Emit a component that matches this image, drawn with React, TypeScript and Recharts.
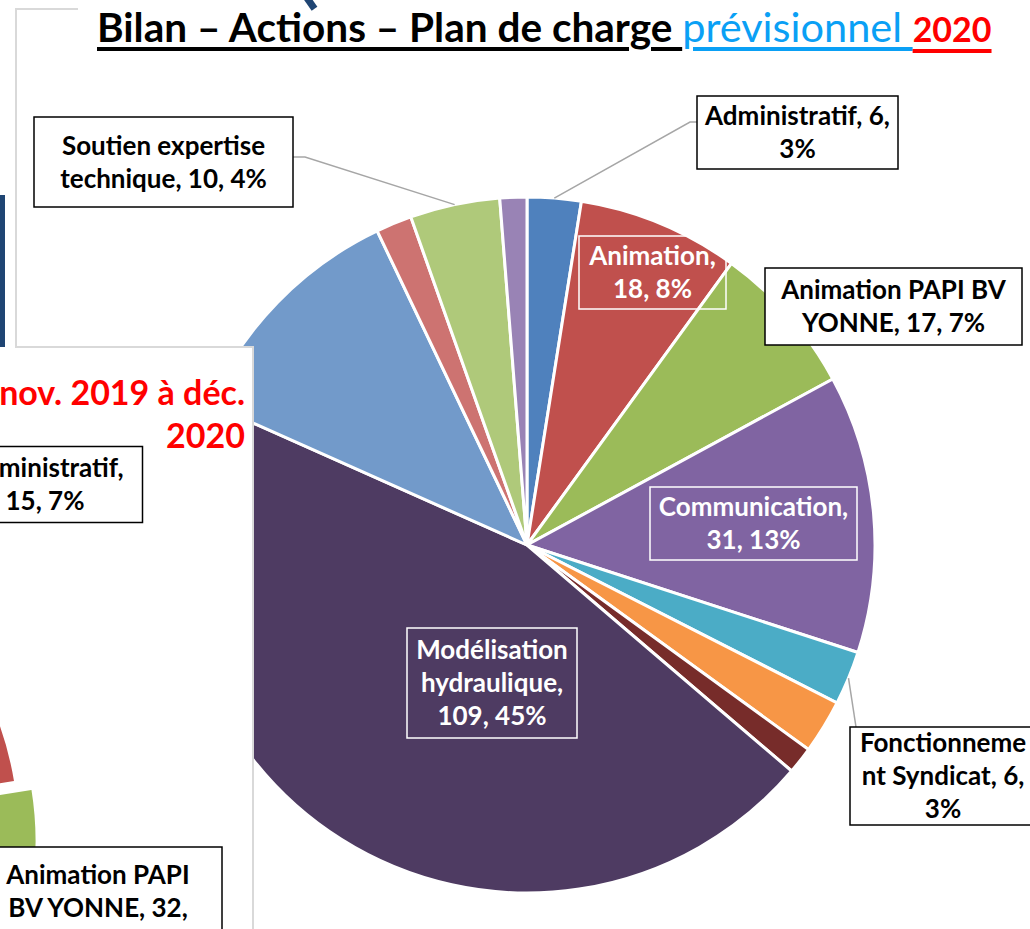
import React from 'react';
import { PieChart, Pie, Cell } from 'recharts';

// ---------- DATA ----------
const titleTexts = ['Bilan – Actions – Plan de charge ', 'prévisionnel ', '2020'];

const categories2020 = [
  'Administratif',
  'Animation',
  'Animation PAPI BV YONNE',
  'Communication',
  'Fonctionnement Syndicat',
  'Études',
  'Gestion',
  'Modélisation hydraulique',
  'Suivi des travaux',
  'Concertation',
  'Soutien expertise technique',
  'Divers',
];
const values2020 = [6, 18, 17, 31, 6, 6, 3, 109, 27, 4, 10, 3];

const periodLines = ['nov. 2019 à déc.', '2020'];
const categoriesBilan = [
  'Administratif',
  'Animation',
  'Animation PAPI BV YONNE',
  'Communication',
  'Fonctionnement Syndicat',
  'Modélisation hydraulique',
  'Autres',
];
const valuesBilan = [15, 33, 32, 28, 8, 80, 18];

// ---------- STYLES / LAYOUT ----------
const colors2020 = ['#4F81BD', '#C0504D', '#9BBB59', '#8064A2', '#4BACC6', '#F79646', '#772C2A', '#4E3B62', '#729ACA', '#CD7371', '#AFC97A', '#9983B5'];
const colorsBilan = ['#4F81BD', '#C0504D', '#9BBB59', '#8064A2', '#4BACC6', '#4E3B62', '#729ACA'];

const FONT = 'Lato, "Open Sans", sans-serif';
const LABEL_SIZE = 26;
const LINE_H = 33;
const RAD = Math.PI / 180;

type Lay = { dx: number; dy: number; w: number; h: number; kind: 'in' | 'out'; breaks: number[]; leader?: number[][] };

const mainCenter = { x: 527, y: 545 };
const mainR = 348;
const mainLayout: Record<string, Lay> = {
  'Administratif': { dx: 270.5, dy: -412.5, w: 201, h: 73, kind: 'out', breaks: [17], leader: [[-107.5, -10.5], [-100.5, -10.5]] },
  'Animation': { dx: 125.5, dy: -272.5, w: 147, h: 73, kind: 'in', breaks: [10] },
  'Animation PAPI BV YONNE': { dx: 366.5, dy: -238.5, w: 257, h: 77, kind: 'out', breaks: [17] },
  'Communication': { dx: 226.5, dy: -21.5, w: 207, h: 73, kind: 'in', breaks: [14] },
  'Fonctionnement Syndicat': { dx: 416, dy: 231, w: 186, h: 98, kind: 'out', breaks: [12, 27], leader: [[-87, -49]] },
  'Modélisation hydraulique': { dx: -35, dy: 138, w: 170, h: 110, kind: 'in', breaks: [12, 25] },
  'Soutien expertise technique': { dx: -363.5, dy: -383, w: 259, h: 90, kind: 'out', breaks: [17], leader: [[141.5, -5], [129.5, -5]] },
};

const panel = { x: 0, y: 347, w: 253, h: 582 };
const bilanCenter = { x: -308, y: 488 };
const bilanR = 328;
const bilanExplode = { dx: 17, dy: 6 };
const bilanLayout: Record<string, Lay> = {
  'Administratif': { dx: 353, dy: -350.5, w: 195, h: 76, kind: 'out', breaks: [14] },
  'Animation PAPI BV YONNE': { dx: 406, dy: 73, w: 248, h: 122, kind: 'out', breaks: [14, 28] },
};

function splitLines(s: string, breaks: number[]) {
  const out: string[] = [];
  let prev = 0;
  breaks.forEach((b) => {
    out.push(s.slice(prev, b).trim());
    prev = b;
  });
  out.push(s.slice(prev).trim());
  return out;
}

function makeLabel(names: string[], vals: number[], layout: Record<string, Lay>, center: { x: number; y: number }, r: number) {
  const total = vals.reduce((a, b) => a + b, 0);
  return (props: any) => {
    const i = props.index;
    const name = names[i];
    const L = layout[name];
    if (!L) return null;
    const pct = Math.round((vals[i] / total) * 100);
    const lines = splitLines(`${name}, ${vals[i]}, ${pct}%`, L.breaks);
    const bx = center.x + L.dx;
    const by = center.y + L.dy;
    const mid = props.midAngle;
    const ex = center.x + r * Math.cos(-mid * RAD);
    const ey = center.y + r * Math.sin(-mid * RAD);
    const inside = L.kind === 'in';
    const n = lines.length;
    let leaderPath = '';
    if (L.leader) {
      leaderPath = `M${ex},${ey}` + L.leader.map((p) => ` L${bx + p[0]},${by + p[1]}`).join('');
    }
    return (
      <g key={`lab-${i}`}>
        {leaderPath && <path d={leaderPath} stroke="#A6A6A6" strokeWidth={1.5} fill="none" />}
        <rect
          x={bx - L.w / 2}
          y={by - L.h / 2}
          width={L.w}
          height={L.h}
          fill={inside ? 'none' : '#ffffff'}
          stroke={inside ? '#ffffff' : '#000000'}
          strokeWidth={1.5}
        />
        <text textAnchor="middle" fontFamily={FONT} fontWeight={700} fontSize={LABEL_SIZE} fill={inside ? '#ffffff' : '#000000'}>
          {lines.map((ln, k) => (
            <tspan key={k} x={bx} y={by + (k - (n - 1) / 2) * LINE_H + 9}>
              {ln}
            </tspan>
          ))}
        </text>
      </g>
    );
  };
}

const mainData = categories2020.map((name, i) => ({ name, value: values2020[i] }));
const bilanData = categoriesBilan.map((name, i) => ({ name, value: valuesBilan[i] }));
const EXPLODED = 'Animation PAPI BV YONNE';

const underline = { textDecoration: 'underline', textDecorationThickness: 4, textUnderlineOffset: 5 } as const;

export default function App() {
  return (
    <div style={{ position: 'absolute', left: 0, top: 0, width: 1030, height: 929, overflow: 'hidden', background: '#ffffff' }}>
      {/* background slide frame */}
      <div style={{ position: 'absolute', left: 15, top: 8, width: 2, height: 340, background: '#D9D9D9' }} />
      <div style={{ position: 'absolute', left: 15, top: 8, width: 63, height: 2, background: '#D9D9D9' }} />
      <div style={{ position: 'absolute', left: 0, top: 195, width: 5, height: 152, background: '#1F4573' }} />
      <div style={{ position: 'absolute', left: 307, top: -4, width: 7, height: 14, background: '#1F4573', transform: 'rotate(-35deg)' }} />

      {/* main pie */}
      <div style={{ position: 'absolute', left: 0, top: 0 }}>
        <PieChart width={1030} height={929} margin={{ top: 0, right: 0, bottom: 0, left: 0 }}>
          <Pie
            data={mainData}
            dataKey="value"
            nameKey="name"
            cx={mainCenter.x}
            cy={mainCenter.y}
            outerRadius={mainR}
            startAngle={90}
            endAngle={-270}
            stroke="#ffffff"
            strokeWidth={3}
            isAnimationActive={false}
            labelLine={false}
            label={makeLabel(categories2020, values2020, mainLayout, mainCenter, mainR)}
          >
            {mainData.map((d, i) => (
              <Cell key={d.name} fill={colors2020[i]} />
            ))}
          </Pie>
        </PieChart>
      </div>

      {/* overlapping panel: bilan nov. 2019 – déc. 2020 */}
      <div style={{ position: 'absolute', left: panel.x, top: panel.y, width: panel.w, height: panel.h, overflow: 'hidden', background: '#ffffff' }}>
        <PieChart width={panel.w} height={panel.h} margin={{ top: 0, right: 0, bottom: 0, left: 0 }}>
          <Pie
            data={bilanData}
            dataKey="value"
            nameKey="name"
            cx={bilanCenter.x}
            cy={bilanCenter.y}
            outerRadius={bilanR}
            startAngle={90}
            endAngle={-270}
            stroke="#ffffff"
            strokeWidth={3}
            isAnimationActive={false}
            labelLine={false}
          >
            {bilanData.map((d, i) => (
              <Cell key={d.name} fill={d.name === EXPLODED ? 'none' : colorsBilan[i]} stroke={d.name === EXPLODED ? 'none' : '#ffffff'} />
            ))}
          </Pie>
          <Pie
            data={bilanData}
            dataKey="value"
            nameKey="name"
            cx={bilanCenter.x + bilanExplode.dx}
            cy={bilanCenter.y + bilanExplode.dy}
            outerRadius={bilanR}
            startAngle={90}
            endAngle={-270}
            stroke="#ffffff"
            strokeWidth={3}
            isAnimationActive={false}
            labelLine={false}
            label={makeLabel(categoriesBilan, valuesBilan, bilanLayout, bilanCenter, bilanR)}
          >
            {bilanData.map((d, i) => (
              <Cell key={d.name} fill={d.name === EXPLODED ? colorsBilan[i] : 'none'} stroke={d.name === EXPLODED ? '#ffffff' : 'none'} />
            ))}
          </Pie>
        </PieChart>
        <div
          style={{
            position: 'absolute',
            right: 8,
            top: 23,
            textAlign: 'right',
            color: '#FF0000',
            fontFamily: FONT,
            fontWeight: 700,
            fontSize: 34,
            lineHeight: '43px',
            whiteSpace: 'nowrap',
          }}
        >
          {periodLines.map((l) => (
            <div key={l}>{l}</div>
          ))}
        </div>
      </div>
      <div style={{ position: 'absolute', left: 15, top: 346, width: 239, height: 2, background: '#D9D9D9' }} />
      <div style={{ position: 'absolute', left: 252, top: 346, width: 2, height: 583, background: '#D9D9D9' }} />

      {/* title */}
      <div
        style={{
          position: 'absolute',
          left: 97,
          top: 3,
          fontFamily: FONT,
          fontSize: 40.5,
          lineHeight: '46px',
          whiteSpace: 'nowrap',
        }}
      >
        <span style={{ color: '#000000', fontWeight: 700, ...underline }}>{titleTexts[0]}</span>
        <span style={{ color: '#0AA0F5', fontWeight: 400, fontSize: 41.5, whiteSpace: 'pre', ...underline }}>{titleTexts[1]}</span>
        <span style={{ color: '#FF0000', fontWeight: 700, fontSize: 34, ...underline, textUnderlineOffset: 7 }}>{titleTexts[2]}</span>
      </div>
    </div>
  );
}
